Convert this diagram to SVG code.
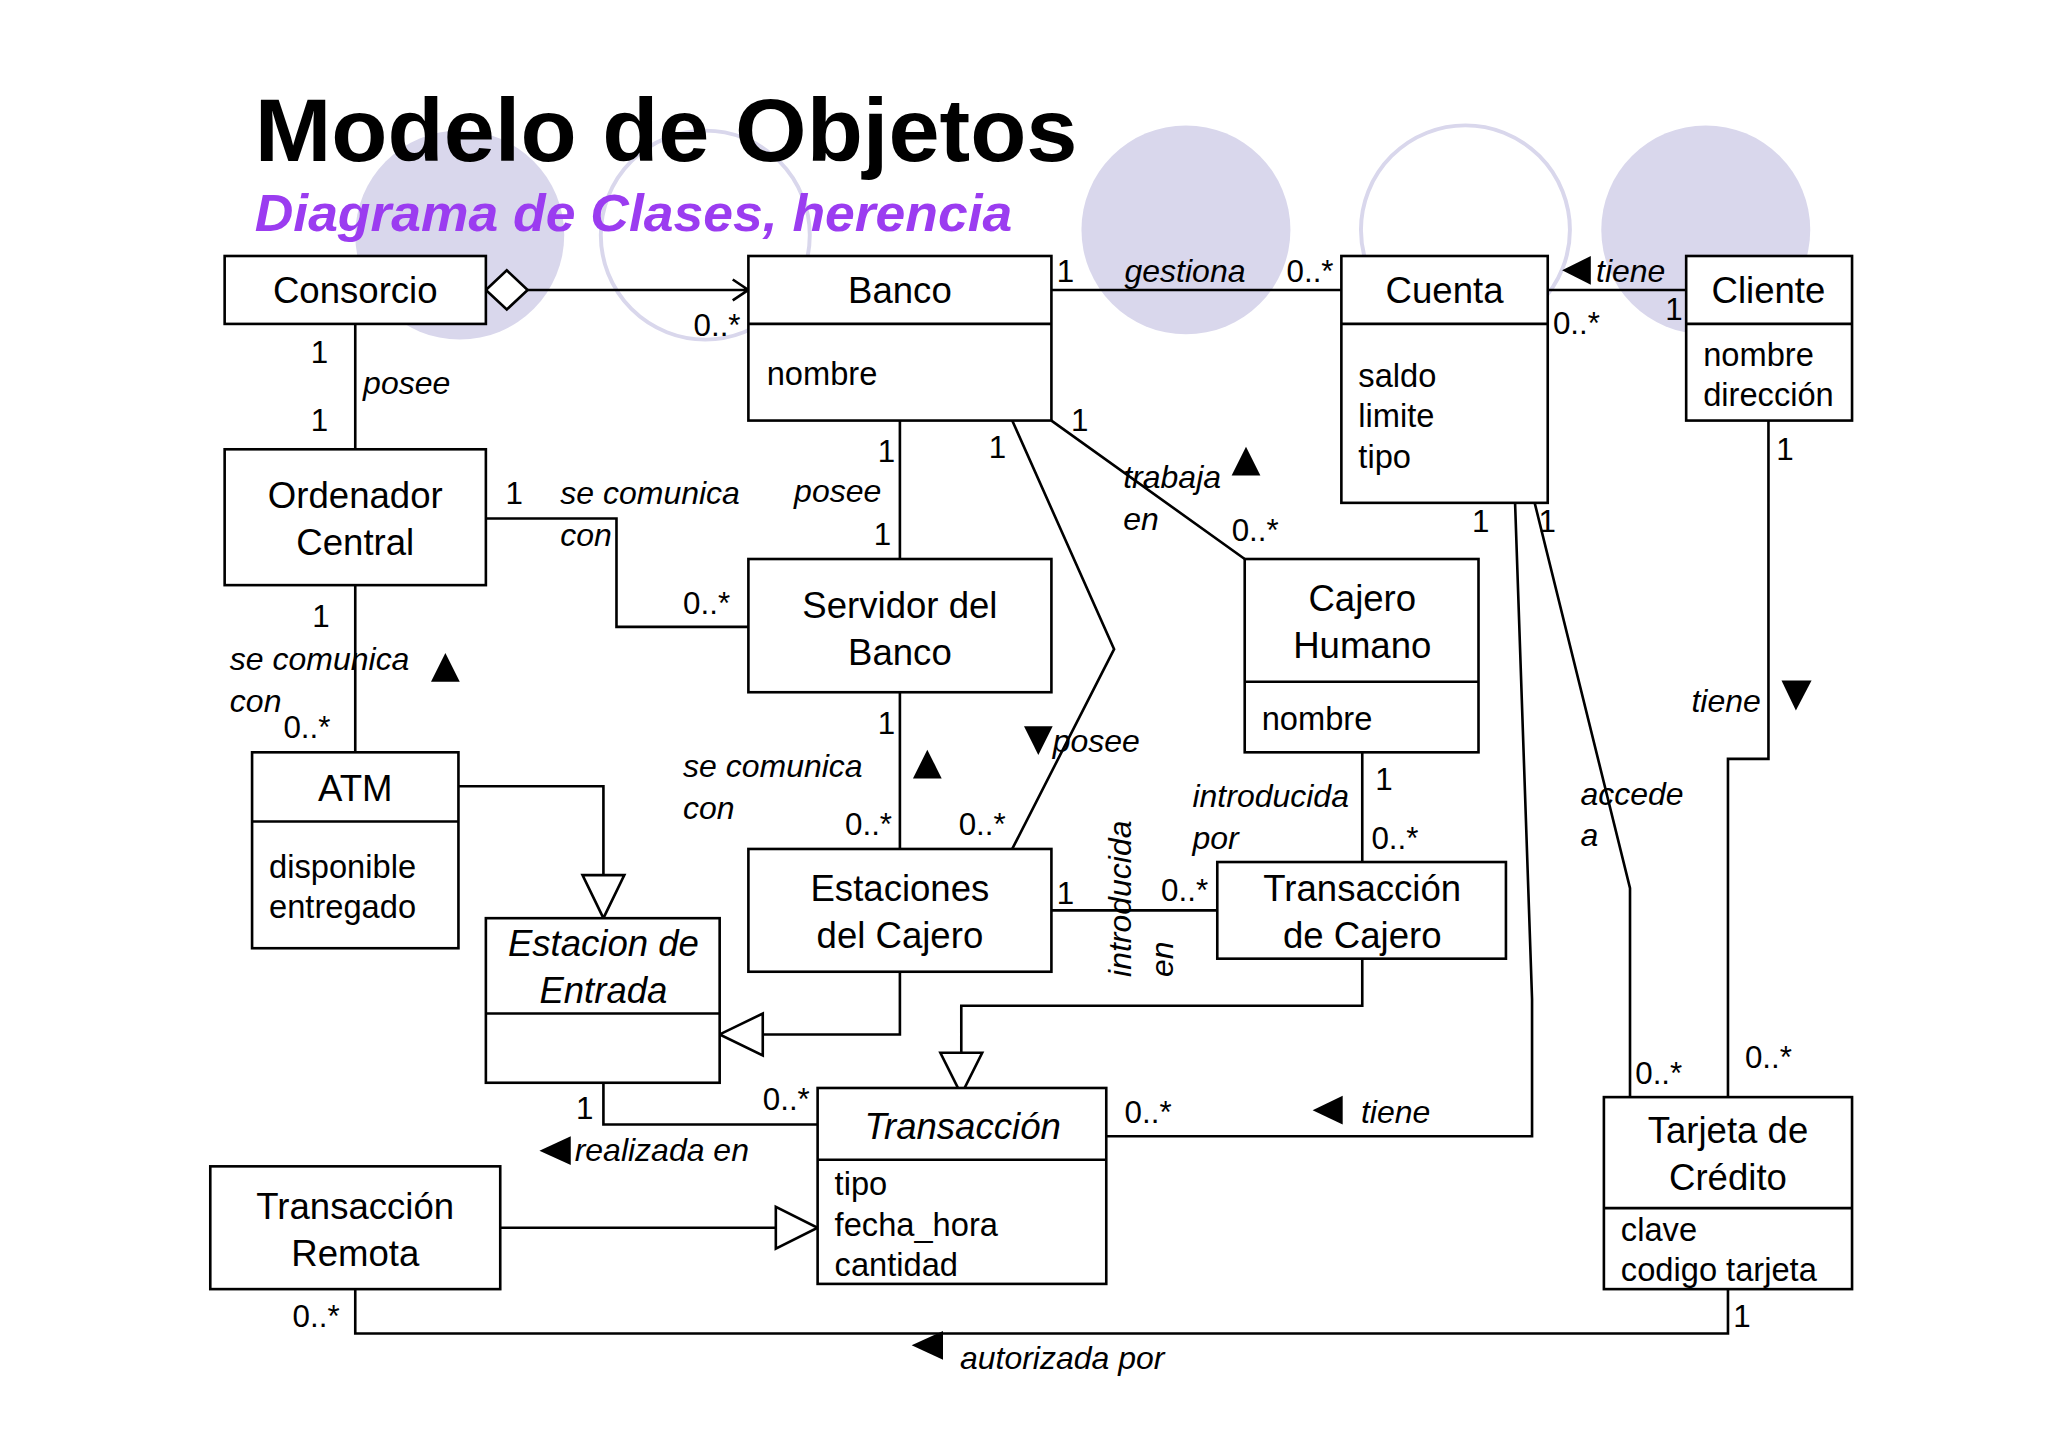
<svg xmlns="http://www.w3.org/2000/svg" width="2048" height="1447" viewBox="0 0 2048 1447">
<style>
.b{fill:#fff;stroke:#000;stroke-width:2}
.d{stroke:#000;stroke-width:2}
.n{font-family:"Liberation Sans",Arial,sans-serif;font-size:28px;text-anchor:middle}
.ni{font-family:"Liberation Sans",Arial,sans-serif;font-size:28px;text-anchor:middle;font-style:italic}
.a{font-family:"Liberation Sans",Arial,sans-serif;font-size:25px}
.l{font-family:"Liberation Sans",Arial,sans-serif;font-size:24.5px;font-style:italic}
.m{font-family:"Liberation Sans",Arial,sans-serif;font-size:24px}
.c{fill:none;stroke:#000;stroke-width:2}
.t{fill:#000}
.h{fill:#fff;stroke:#000;stroke-width:2}
</style>
<rect width="2048" height="1447" fill="#fff"/>
<g transform="scale(1.3061)">
<g id="deco">
<circle cx="352" cy="180" r="80" fill="#d9d7ec"/>
<circle cx="540" cy="180" r="80" fill="none" stroke="#d9d7ec" stroke-width="3"/>
<circle cx="908" cy="176" r="80" fill="#d9d7ec"/>
<circle cx="1122" cy="176" r="80" fill="none" stroke="#d9d7ec" stroke-width="3"/>
<circle cx="1306" cy="176" r="80" fill="#d9d7ec"/>
</g>
<text x="195" y="123" font-family="Liberation Sans,Arial,sans-serif" font-size="68" font-weight="bold" textLength="630" lengthAdjust="spacingAndGlyphs">Modelo de Objetos</text>
<text x="195" y="177" font-family="Liberation Sans,Arial,sans-serif" font-size="40" font-weight="bold" font-style="italic" fill="#9b3cf0" textLength="580" lengthAdjust="spacingAndGlyphs">Diagrama de Clases, herencia</text>
<g id="connectors">
<path class="c" d="M404 222H573M561 214L573 222L561 230"/>
<polygon class="h" points="372,222 388,207 404,222 388,237"/>
<path class="c" d="M272 248V344M372 397H472V480H573M689 322V428M775 322L853 497L775 650M805 322L953 428M805 222H1027M1185 222H1291M272 448V576M351 602H462V670M689 530V650M689 744V792H584M805 697H932M1043 576V660M1043 734V770H736V806M462 829V861H626M1160 385L1173 765V870H847M1175 385L1248 680V840M1354 322V581H1323V840M383 940H594M272 987V1021H1323V987"/>
<polygon class="h" points="446,670 478,670 462,703"/>
<polygon class="h" points="584,776 584,808 551,792"/>
<polygon class="h" points="720,806 752,806 736,838"/>
<polygon class="h" points="594,924 594,956 626,940"/>
<polygon class="t" points="1196,207 1218,196 1218,218"/>
<polygon class="t" points="943,364 965,364 954,342"/>
<polygon class="t" points="330,522 352,522 341,500"/>
<polygon class="t" points="699,596 721,596 710,574"/>
<polygon class="t" points="784,556 806,556 795,578"/>
<polygon class="t" points="1364,521 1387,521 1375,544"/>
<polygon class="t" points="413,881 437,870 437,892"/>
<polygon class="t" points="1005,850 1028,839 1028,861"/>
<polygon class="t" points="698,1030 722,1019 722,1041"/>
</g>
<g id="labels">
<text class="m" x="531" y="257">0..*</text>
<text class="m" x="238" y="278">1</text><text class="l" x="278" y="302">posee</text><text class="m" x="238" y="330">1</text>
<text class="m" x="387" y="386">1</text><text class="l" x="429" y="386">se comunica</text><text class="l" x="429" y="418">con</text><text class="m" x="523" y="470">0..*</text>
<text class="m" x="672" y="354">1</text><text class="l" x="608" y="384">posee</text><text class="m" x="669" y="417">1</text>
<text class="m" x="757" y="351">1</text><text class="l" x="806" y="576">posee</text><text class="m" x="734" y="639">0..*</text>
<text class="m" x="820" y="330">1</text><text class="l" x="860" y="374">trabaja</text><text class="l" x="860" y="406">en</text><text class="m" x="943" y="414">0..*</text>
<text class="m" x="809" y="216">1</text><text class="l" x="861" y="216">gestiona</text><text class="m" x="985" y="216">0..*</text>
<text class="l" x="1222" y="216">tiene</text><text class="m" x="1189" y="256">0..*</text><text class="m" x="1275" y="245">1</text>
<text class="m" x="239" y="480">1</text><text class="l" x="176" y="513">se comunica</text><text class="l" x="176" y="545">con</text><text class="m" x="217" y="565">0..*</text>
<text class="m" x="672" y="562">1</text><text class="l" x="523" y="595">se comunica</text><text class="l" x="523" y="627">con</text><text class="m" x="647" y="639">0..*</text>
<text class="m" x="809" y="692">1</text><text class="m" x="889" y="690">0..*</text>
<text class="l" transform="translate(866,748) rotate(-90)">introducida</text>
<text class="l" transform="translate(898,748) rotate(-90)">en</text>
<text class="m" x="1053" y="605">1</text><text class="l" x="913" y="618">introducida</text><text class="l" x="913" y="650">por</text><text class="m" x="1050" y="650">0..*</text>
<text class="m" x="441" y="857">1</text><text class="m" x="584" y="850">0..*</text><text class="l" x="440" y="889">realizada en</text>
<text class="m" x="1127" y="407">1</text><text class="m" x="861" y="860">0..*</text><text class="l" x="1042" y="860">tiene</text>
<text class="m" x="1178" y="407">1</text><text class="l" x="1210" y="616">accede</text><text class="l" x="1210" y="648">a</text><text class="m" x="1252" y="830">0..*</text>
<text class="m" x="1360" y="352">1</text><text class="l" x="1295" y="545">tiene</text><text class="m" x="1336" y="818">0..*</text>
<text class="m" x="224" y="1016">0..*</text><text class="m" x="1327" y="1016">1</text><text class="l" x="735" y="1048">autorizada por</text>
</g>
<g id="consorcio"><rect class="b" x="172" y="196" width="200" height="52"/><text class="n" x="272" y="232">Consorcio</text></g>
<g id="banco"><rect class="b" x="573" y="196" width="232" height="126"/><line class="d" x1="573" y1="248" x2="805" y2="248"/><text class="n" x="689" y="232">Banco</text><text class="a" x="587" y="295">nombre</text></g>
<g id="cuenta"><rect class="b" x="1027" y="196" width="158" height="189"/><line class="d" x1="1027" y1="248" x2="1185" y2="248"/><text class="n" x="1106" y="232">Cuenta</text><text class="a" x="1040" y="296">saldo</text><text class="a" x="1040" y="327">limite</text><text class="a" x="1040" y="358">tipo</text></g>
<g id="cliente"><rect class="b" x="1291" y="196" width="127" height="126"/><line class="d" x1="1291" y1="248" x2="1418" y2="248"/><text class="n" x="1354" y="232">Cliente</text><text class="a" x="1304" y="280">nombre</text><text class="a" x="1304" y="311">dirección</text></g>
<g id="ordenador"><rect class="b" x="172" y="344" width="200" height="104"/><text class="n" x="272" y="389">Ordenador</text><text class="n" x="272" y="425">Central</text></g>
<g id="servidor"><rect class="b" x="573" y="428" width="232" height="102"/><text class="n" x="689" y="473">Servidor del</text><text class="n" x="689" y="509">Banco</text></g>
<g id="cajero"><rect class="b" x="953" y="428" width="179" height="148"/><line class="d" x1="953" y1="522" x2="1132" y2="522"/><text class="n" x="1043" y="468">Cajero</text><text class="n" x="1043" y="504">Humano</text><text class="a" x="966" y="559">nombre</text></g>
<g id="atm"><rect class="b" x="193" y="576" width="158" height="150"/><line class="d" x1="193" y1="629" x2="351" y2="629"/><text class="n" x="272" y="613">ATM</text><text class="a" x="206" y="672">disponible</text><text class="a" x="206" y="703">entregado</text></g>
<g id="estacion"><rect class="b" x="372" y="703" width="179" height="126"/><line class="d" x1="372" y1="776" x2="551" y2="776"/><text class="ni" x="462" y="732">Estacion de</text><text class="ni" x="462" y="768">Entrada</text></g>
<g id="estaciones"><rect class="b" x="573" y="650" width="232" height="94"/><text class="n" x="689" y="690">Estaciones</text><text class="n" x="689" y="726">del Cajero</text></g>
<g id="transcajero"><rect class="b" x="932" y="660" width="221" height="74"/><text class="n" x="1043" y="690">Transacción</text><text class="n" x="1043" y="726">de Cajero</text></g>
<g id="transaccion"><rect class="b" x="626" y="833" width="221" height="150"/><line class="d" x1="626" y1="888" x2="847" y2="888"/><text class="ni" x="737" y="872">Transacción</text><text class="a" x="639" y="915">tipo</text><text class="a" x="639" y="946">fecha_hora</text><text class="a" x="639" y="977">cantidad</text></g>
<g id="remota"><rect class="b" x="161" y="893" width="222" height="94"/><text class="n" x="272" y="933">Transacción</text><text class="n" x="272" y="969">Remota</text></g>
<g id="tarjeta"><rect class="b" x="1228" y="840" width="190" height="147"/><line class="d" x1="1228" y1="925" x2="1418" y2="925"/><text class="n" x="1323" y="875">Tarjeta de</text><text class="n" x="1323" y="911">Crédito</text><text class="a" x="1241" y="950">clave</text><text class="a" x="1241" y="981">codigo tarjeta</text></g>
</g>
</svg>
